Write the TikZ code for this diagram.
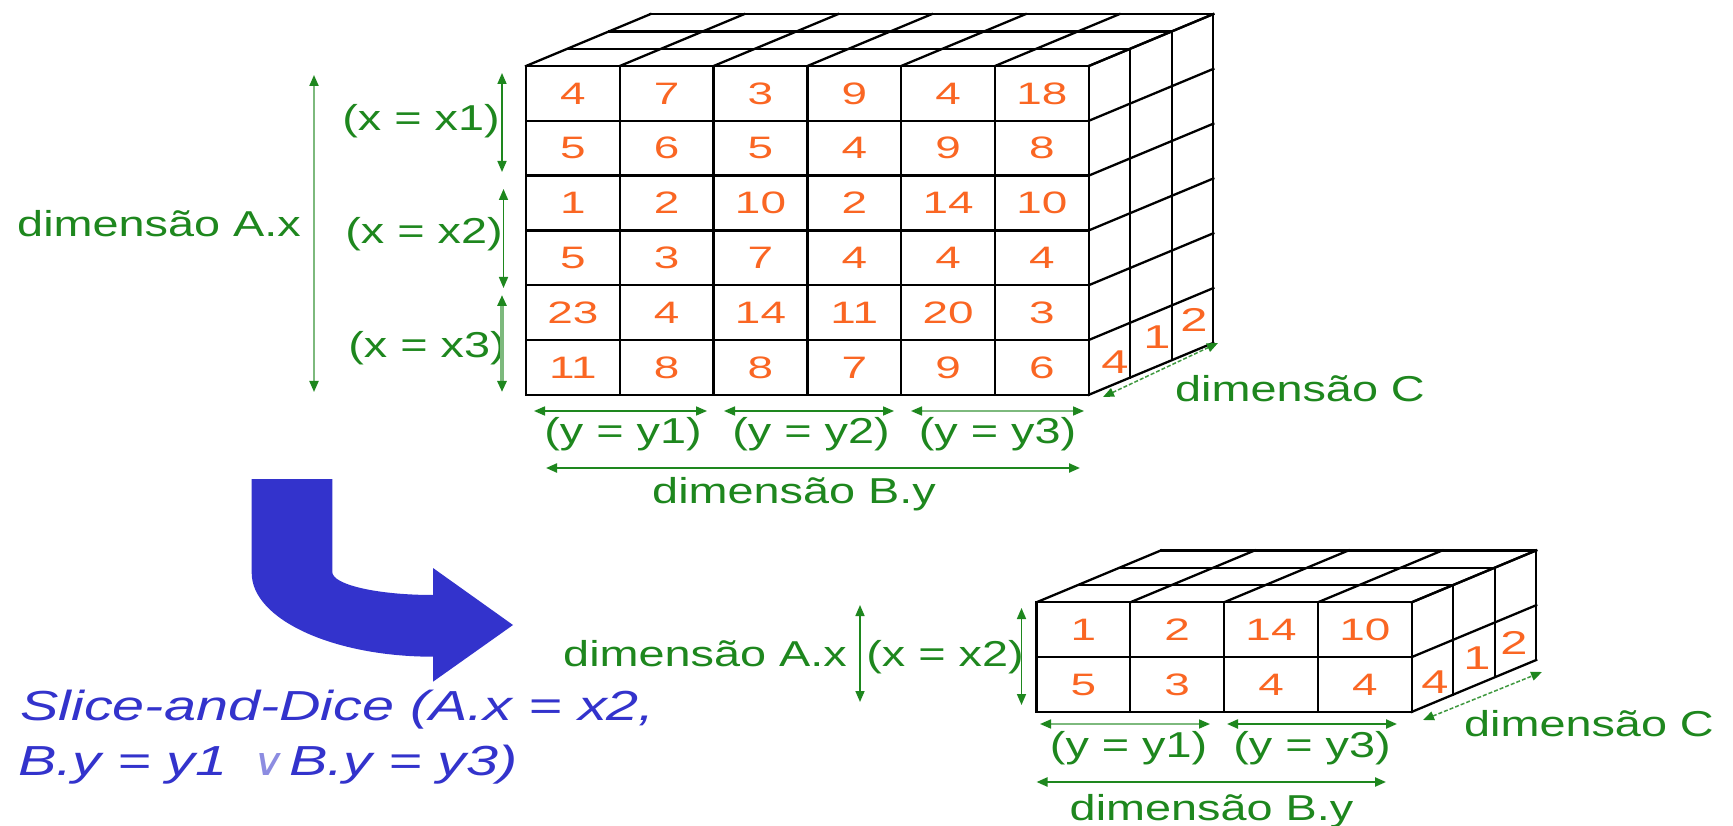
\documentclass[tikz,border=0pt]{standalone}
\usepackage{fontspec}
\setmainfont{Liberation Sans}
\newfontfamily\numfont[FakeStretch=1.48]{Liberation Sans}
\newfontfamily\labfont[FakeStretch=1.3]{Liberation Sans}
\newfontfamily\blufont[FakeStretch=1.37]{Liberation Sans}
\newfontfamily\orsymfont[FakeStretch=1.2,FakeSlant=0.2]{DejaVu Sans}
\usetikzlibrary{arrows.meta}
\definecolor{numor}{RGB}{250,102,35}
\definecolor{dgreen}{RGB}{30,135,30}
\definecolor{lgreen}{RGB}{125,185,125}
\definecolor{arrblue}{RGB}{51,51,204}
\definecolor{orblue}{RGB}{140,140,225}
\def\cubecw{93.8}
\def\cuberh{54.8}
\def\cubedx{41.5}
\def\cubedy{-17.3}
\newcommand{\cubegrid}[4]{%
  \pgfmathsetmacro\cubexr{#1+#3*\cubecw}%
  \pgfmathsetmacro\cubeyb{#2+#4*\cuberh}%
  \foreach \i in {0,...,#3} {\draw[cubeline] ({#1+\i*\cubecw},#2) -- ({#1+\i*\cubecw},\cubeyb);}
  \foreach \j in {0,...,#4} {\draw[cubeline] (#1,{#2+\j*\cuberh}) -- (\cubexr,{#2+\j*\cuberh});}
  \foreach \k in {1,2,3} {\draw[cubeline] ({#1+\k*\cubedx},{#2+\k*\cubedy}) -- ({\cubexr+\k*\cubedx},{#2+\k*\cubedy});}
  \foreach \i in {0,...,#3} {\draw[cubeline] ({#1+\i*\cubecw},#2) -- ++({3*\cubedx},{3*\cubedy});}
  \foreach \k in {1,2,3} {\draw[cubeline] ({\cubexr+\k*\cubedx},{#2+\k*\cubedy}) -- ({\cubexr+\k*\cubedx},{\cubeyb+\k*\cubedy});}
  \foreach \j in {0,...,#4} {\draw[cubeline] (\cubexr,{#2+\j*\cuberh}) -- ++({3*\cubedx},{3*\cubedy});}
}
\begin{document}
\begin{tikzpicture}[x=1pt,y=-1pt,
  cubeline/.style={line width=2.3pt, black, line cap=rect},
  num/.style={text=numor, font=\numfont\fontsize{31}{31}\selectfont, inner sep=0pt},
  sidenum/.style={text=numor, font=\numfont\fontsize{33}{33}\selectfont, inner sep=0pt},
  lab/.style={text=dgreen, font=\labfont\fontsize{36}{36}\selectfont, inner sep=0pt, anchor=base},
  blutext/.style={text=arrblue, font=\blufont\itshape\fontsize{42}{42}\selectfont, inner sep=0pt, anchor=base west},
  garrow/.style={draw=dgreen, line width=1.6pt, >={Triangle[length=11pt,width=9pt,color=dgreen]}, <->},
  lightarrow/.style={garrow, draw=lgreen, line width=2pt},
  bandarrow/.style={garrow, draw=lgreen, line width=4.5pt},
  dasharrow/.style={garrow, draw=dgreen!85, line width=1.5pt, dash pattern=on 4pt off 2pt},
  bigarrow/.style={fill=arrblue, draw=none}
]
\fill[white] (0,0) rectangle (1733,826);
\useasboundingbox (0,0) rectangle (1733,826);

% ---------------- big cube ----------------
\cubegrid{526}{66}{6}{6}
\foreach \row [count=\r] in {{4,7,3,9,4,18},{5,6,5,4,9,8},{1,2,10,2,14,10},{5,3,7,4,4,4},{23,4,14,11,20,3},{11,8,8,7,9,6}} {
  \foreach \v [count=\c] in \row {
    \node[num] (b-\r-\c) at ({526+(\c-0.5)*\cubecw},{66+(\r-0.5)*\cuberh}) {\v};
  }
}
\node[sidenum] (bs1) at (1115,362) {4};
\node[sidenum] (bs2) at (1157,337) {1};
\node[sidenum] (bs3) at (1194,320) {2};

% labels big cube
\node[lab] (bdimA) at (159,236.7) {dimensão A.x};
\node[lab] (bx1) at (421,130.5) {(x = x1)};
\node[lab] (bx2) at (424,244) {(x = x2)};
\node[lab] (bx3) at (427,358) {(x = x3)};
\node[lab] (by1) at (623,443) {(y = y1)};
\node[lab] (by2) at (811,443) {(y = y2)};
\node[lab] (by3) at (997.5,443) {(y = y3)};
\node[lab] (bdimB) at (794,503) {dimensão B.y};
\node[lab] (bdimC) at (1300,402) {dimensão C};

\coordinate (bA1) at (314,75);   \coordinate (bA2) at (314,392);
\coordinate (bx1a) at (502,73);  \coordinate (bx1b) at (502,172);
\coordinate (bx2a) at (503.5,189); \coordinate (bx2b) at (503.5,288);
\coordinate (bx3a) at (502,295); \coordinate (bx3b) at (502,392);
\coordinate (by1a) at (534,411); \coordinate (by1b) at (707,411);
\coordinate (by2a) at (724,411); \coordinate (by2b) at (894,411);
\coordinate (by3a) at (911,411); \coordinate (by3b) at (1084,411);
\coordinate (bBa) at (546,468);  \coordinate (bBb) at (1080,468);
\coordinate (bCa) at (1103,397); \coordinate (bCb) at (1218,343);
\draw[lightarrow] (bA1) -- (bA2);
\draw[garrow] (bx1a) -- (bx1b);
\draw[garrow] (bx2a) -- (bx2b);
\draw[bandarrow] (bx3a) -- (bx3b);
\draw[garrow] (by1a) -- (by1b);
\draw[garrow] (by2a) -- (by2b);
\draw[garrow, draw=lgreen] (by3a) -- (by3b);
\draw[garrow, line width=2.2pt] (bBa) -- (bBb);
\draw[dasharrow] (bCa) -- (bCb);

% ---------------- blue bent arrow ----------------
\fill[bigarrow] (251.7,479) -- (251.7,573)
  .. controls (251.7,619.2) and (332.9,656.7) .. (433,656.7)
  -- (433,681.7) -- (513,625) -- (433,568) -- (433,595)
  .. controls (377.4,595) and (332.3,584.7) .. (332.3,572)
  -- (332.3,479) -- cycle;

\node[blutext] (sd1) at (20,720) {Slice-and-Dice (A.x = x2,};
\node[blutext] (sd2) at (18,775) {B.y = y1\hspace{22pt}{\color{orblue}\orsymfont\upshape\fontsize{38}{38}\selectfont ∨}\hspace{6pt}B.y = y3)};

% ---------------- small cube ----------------
\cubegrid{1036.5}{602.3}{4}{2}
\foreach \row [count=\r] in {{1,2,14,10},{5,3,4,4}} {
  \foreach \v [count=\c] in \row {
    \node[num] (s-\r-\c) at ({1036.5+(\c-0.5)*\cubecw},{602.3+(\r-0.5)*\cuberh}) {\v};
  }
}
\node[sidenum] (ss1) at (1435,682) {4};
\node[sidenum] (ss2) at (1477,658) {1};
\node[sidenum] (ss3) at (1514,643) {2};

\node[lab] (sdimA) at (705,666) {dimensão A.x};
\node[lab] (sx2) at (945,666) {(x = x2)};
\node[lab] (sy1) at (1128.6,757) {(y = y1)};
\node[lab] (sy3) at (1312,757) {(y = y3)};
\node[lab] (sdimB) at (1211.5,820) {dimensão B.y};
\node[lab] (sdimC) at (1589,736.7) {dimensão C};

\coordinate (sAa) at (860,605);   \coordinate (sAb) at (860,702);
\coordinate (sx2a) at (1021.5,608); \coordinate (sx2b) at (1021.5,705);
\coordinate (sy1a) at (1040,724); \coordinate (sy1b) at (1210,724);
\coordinate (sy3a) at (1227,724); \coordinate (sy3b) at (1397,724);
\coordinate (sBa) at (1036.5,782); \coordinate (sBb) at (1386,782);
\coordinate (sCa) at (1423,720);  \coordinate (sCb) at (1542,672);
\draw[garrow] (sAa) -- (sAb);
\draw[garrow] (sx2a) -- (sx2b);
\draw[garrow, draw=lgreen] (sy1a) -- (sy1b);
\draw[garrow, line width=2.2pt] (sy3a) -- (sy3b);
\draw[garrow, line width=2.2pt] (sBa) -- (sBb);
\draw[dasharrow] (sCa) -- (sCb);
\end{tikzpicture}
\end{document}
